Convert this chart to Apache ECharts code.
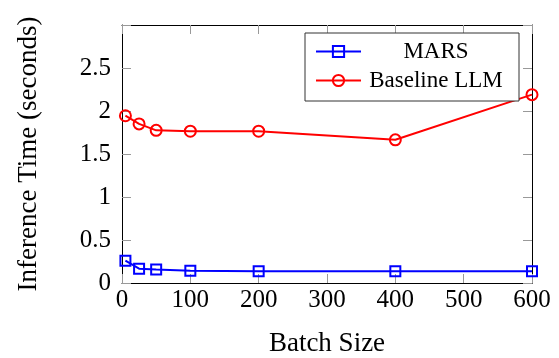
<!DOCTYPE html>
<html>
<head>
<meta charset="utf-8">
<script src="https://cdn.jsdelivr.net/npm/echarts@6/dist/echarts.min.js"></script>
<style>
  html, body { margin: 0; padding: 0; background: #fff; }
  #chart { width: 559px; height: 358px; }
</style>
</head>
<body>
<div id="chart"></div>
<script>
// batch sizes and inference times
const batchSizes = [5, 25, 50, 100, 200, 400, 600];
const marsTimes = [0.26, 0.166, 0.156, 0.141, 0.138, 0.137, 0.137];
const baselineTimes = [1.945, 1.85, 1.775, 1.765, 1.765, 1.665, 2.19];
const seriesNames = ['MARS', 'Baseline LLM'];

const FONT = 'Liberation Serif';
const tickGray = '#999';

const toPairs = (ys) => batchSizes.map((x, i) => [x, ys[i]]);

const myChart = echarts.init(document.getElementById('chart'));

const mkSeries = (name, data, color, symbol, size) => ({
    name: name,
    type: 'line',
    data: data,
    symbol: symbol,
    symbolSize: size,
    color: color,
    lineStyle: { color: color, width: 2 },
    itemStyle: { color: 'rgba(255,255,255,0)', borderColor: color, borderWidth: 2 },
    emphasis: { disabled: true },
    z: 3,
});

// box edges: black line, gray ticks pointing inward
const boxLine = { show: true, onZero: false, lineStyle: { color: '#000', width: 1 } };
const boxTick = { show: true, inside: true, length: 9, lineStyle: { color: tickGray } };

myChart.setOption({
    animation: false,
    textStyle: { fontFamily: FONT },
    grid: { left: 122, right: 27, top: 25, bottom: 75, outerBoundsMode: 'none' },
    legend: {
        orient: 'vertical',
        left: 305,
        top: 33,
        padding: [7, 13, 9, 10],
        itemWidth: 45,
        itemHeight: 14,
        itemGap: 6,
        itemTextGap: 7,
        borderColor: '#333',
        borderWidth: 1,
        backgroundColor: '#fff',
        data: seriesNames,
        formatter: (name) => '{t|' + name + '}',
        textStyle: {
            rich: {
                t: {
                    fontFamily: FONT,
                    fontSize: 23,
                    color: '#000',
                    width: 140,
                    align: 'center',
                    lineHeight: 26,
                },
            },
        },
    },
    xAxis: [
        {
            type: 'value',
            min: 0,
            max: 600,
            interval: 100,
            position: 'bottom',
            name: 'Batch Size',
            nameLocation: 'middle',
            nameGap: 47,
            nameTextStyle: { fontFamily: FONT, fontSize: 27, color: '#000' },
            axisLine: boxLine,
            axisTick: boxTick,
            axisLabel: { fontFamily: FONT, fontSize: 25, color: '#000', margin: 5 },
            splitLine: { show: false },
        },
        {
            type: 'value',
            min: 0,
            max: 600,
            interval: 100,
            position: 'top',
            axisLine: boxLine,
            axisTick: boxTick,
            axisLabel: { show: false },
            splitLine: { show: false },
        },
    ],
    yAxis: [
        {
            type: 'value',
            min: 0,
            max: 3,
            interval: 0.5,
            position: 'left',
            name: 'Inference Time (seconds)',
            nameLocation: 'middle',
            nameGap: 80,
            nameTextStyle: { fontFamily: FONT, fontSize: 27, color: '#000' },
            axisLine: boxLine,
            axisTick: boxTick,
            axisLabel: {
                fontFamily: FONT,
                fontSize: 25,
                color: '#000',
                margin: 11,
                formatter: (v) => (v === 3 ? '' : String(v)),
            },
            splitLine: { show: false },
        },
        {
            type: 'value',
            min: 0,
            max: 3,
            interval: 0.5,
            position: 'right',
            axisLine: boxLine,
            axisTick: boxTick,
            axisLabel: { show: false },
            splitLine: { show: false },
        },
    ],
    series: [
        mkSeries(seriesNames[0], toPairs(marsTimes), '#0000ff', 'rect', 10),
        mkSeries(seriesNames[1], toPairs(baselineTimes), '#ff0000', 'circle', 11),
    ],
});
</script>
</body>
</html>
